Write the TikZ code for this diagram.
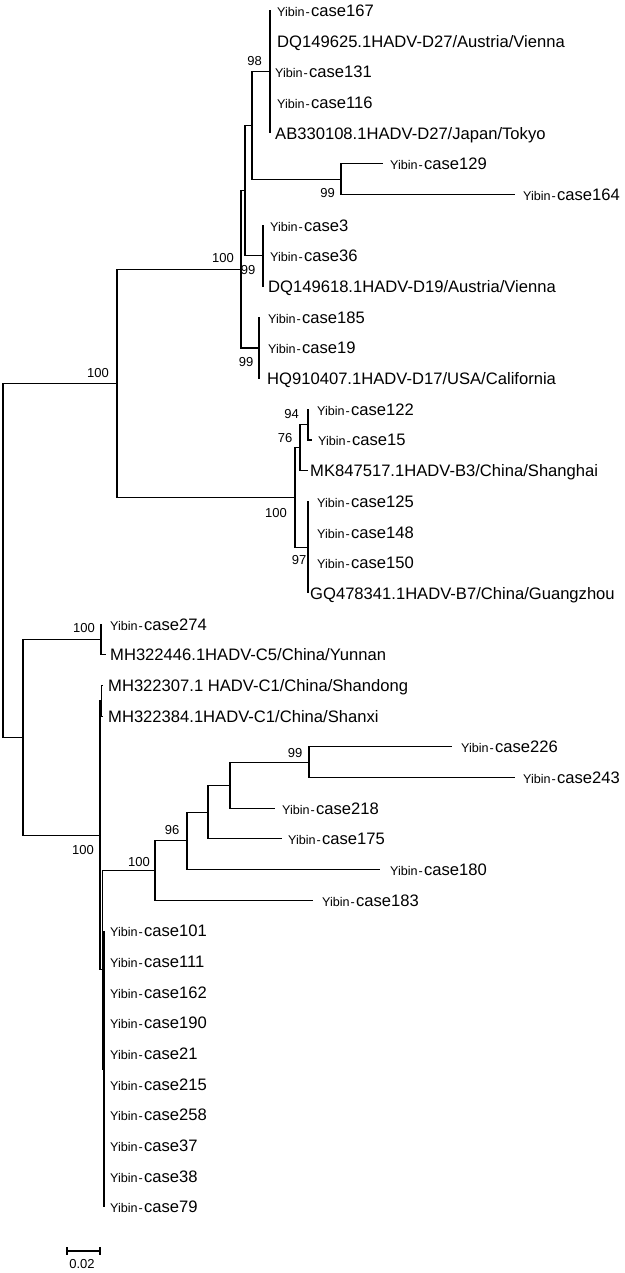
\documentclass[tikz,border=0pt]{standalone}
\usepackage{fontspec}
\setmainfont{Liberation Sans}
\newcommand\yib[1]{{\fontsize{12.6pt}{14pt}\selectfont Yibin\kern0.8pt-\kern1.4pt}case#1}
\begin{document}
\begin{tikzpicture}[x=1pt,y=-1pt,
  br/.style={line width=1.05pt},
  lab/.style={anchor=west,inner sep=0pt,text height=11.9pt,text depth=0pt,font=\fontsize{16.6pt}{18pt}\selectfont},
  bs/.style={anchor=center,inner sep=0pt,text height=9.4pt,text depth=0pt,font=\fontsize{13pt}{14pt}\selectfont}]
\useasboundingbox (0,0) rectangle (624,1273);
% internal nodes
\coordinate (root) at (3,560.5);
\coordinate (DB) at (117,383.5);
\coordinate (Dr) at (241,269.4);
\coordinate (A) at (245,190.8);
\coordinate (C) at (252,125.6);
\coordinate (D27) at (270,71.9);
\coordinate (N129) at (341,179.2);
\coordinate (N3) at (263,255.9);
\coordinate (N185) at (259,348.0);
\coordinate (Br) at (295,497.6);
\coordinate (N76) at (300,447.7);
\coordinate (N122) at (308,424.7);
\coordinate (N125) at (308,547.4);
\coordinate (Cr) at (23,737.4);
\coordinate (N274) at (101,639.5);
\coordinate (N0) at (100,835.3);
\coordinate (P) at (101.5,700.8);
\coordinate (N2) at (102.5,969.7);
\coordinate (S1) at (155,870.5);
\coordinate (S2) at (187,840.8);
\coordinate (S3) at (208,812.1);
\coordinate (S4) at (230,785.2);
\coordinate (S5) at (309,762.2);
\coordinate (N3c) at (104,1069.0);
% tips
\coordinate (t167) at (270,10.5);
\coordinate (tDQa) at (270,41.2);
\coordinate (t131) at (270,71.9);
\coordinate (t116) at (270,102.5);
\coordinate (tAB) at (270,133.2);
\coordinate (t129) at (383,163.9);
\coordinate (t164) at (515,194.6);
\coordinate (t3) at (263,225.3);
\coordinate (t36) at (263,255.9);
\coordinate (tDQb) at (263,286.6);
\coordinate (t185) at (259,317.3);
\coordinate (t19) at (259,348.0);
\coordinate (tHQ) at (259,378.7);
\coordinate (t122) at (308,409.3);
\coordinate (t15) at (312,440.0);
\coordinate (tMK) at (308,470.7);
\coordinate (t125) at (308,501.4);
\coordinate (t148) at (308,532.1);
\coordinate (t150) at (308,562.7);
\coordinate (tGQ) at (308,593.4);
\coordinate (t274) at (101,624.1);
\coordinate (tMHa) at (106,654.8);
\coordinate (tMHb) at (103,685.5);
\coordinate (tMHc) at (103,716.1);
\coordinate (t226) at (452,746.8);
\coordinate (t243) at (515,777.5);
\coordinate (t218) at (275,808.2);
\coordinate (t175) at (282,838.9);
\coordinate (t180) at (380,869.5);
\coordinate (t183) at (313,900.2);
\coordinate (t101) at (104,930.9);
\coordinate (t111) at (104,961.6);
\coordinate (t162) at (104,992.3);
\coordinate (t190) at (104,1022.9);
\coordinate (t21) at (104,1053.6);
\coordinate (t215) at (104,1084.3);
\coordinate (t258) at (104,1115.0);
\coordinate (t37) at (104,1145.7);
\coordinate (t38) at (104,1176.3);
\coordinate (t79) at (104,1207.0);
% branches
\foreach \p/\c in {root/DB,root/Cr,DB/Dr,DB/Br,Dr/A,Dr/N185,A/C,A/N3,C/D27,C/N129,
  D27/t167,D27/tDQa,D27/t131,D27/t116,D27/tAB,N129/t129,N129/t164,
  N3/t3,N3/t36,N3/tDQb,N185/t185,N185/t19,N185/tHQ,
  Br/N76,Br/N125,N76/N122,N76/tMK,N122/t122,N122/t15,
  N125/t125,N125/t148,N125/t150,N125/tGQ,
  Cr/N274,Cr/N0,N274/t274,N274/tMHa,N0/P,N0/N2,P/tMHb,P/tMHc,
  N2/S1,N2/N3c,S1/S2,S1/t183,S2/S3,S2/t180,S3/S4,S3/t175,S4/S5,S4/t218,S5/t226,S5/t243,
  N3c/t101,N3c/t111,N3c/t162,N3c/t190,N3c/t21,N3c/t215,N3c/t258,N3c/t37,N3c/t38,N3c/t79}
  {\draw[br] (\p) |- (\c);}
% leaf labels
\node[lab] (L167) at (277,10.5) {\yib{167}};
\node[lab] (LDQa) at (277,41.2) {DQ149625.1HADV-D27/Austria/Vienna};
\node[lab] (L131) at (275,71.9) {\yib{131}};
\node[lab] (L116) at (277,102.5) {\yib{116}};
\node[lab] (LAB) at (275,133.2) {AB330108.1HADV-D27/Japan/Tokyo};
\node[lab] (L129) at (390,163.9) {\yib{129}};
\node[lab] (L164) at (523,194.6) {\yib{164}};
\node[lab] (L3) at (270,225.3) {\yib{3}};
\node[lab] (L36) at (270,255.9) {\yib{36}};
\node[lab] (LDQb) at (268,286.6) {DQ149618.1HADV-D19/Austria/Vienna};
\node[lab] (L185) at (268,317.3) {\yib{185}};
\node[lab] (L19) at (268,348.0) {\yib{19}};
\node[lab] (LHQ) at (267,378.7) {HQ910407.1HADV-D17/USA/California};
\node[lab] (L122) at (317,409.3) {\yib{122}};
\node[lab] (L15) at (318,440.0) {\yib{15}};
\node[lab] (LMK) at (310,470.7) {MK847517.1HADV-B3/China/Shanghai};
\node[lab] (L125) at (317,501.4) {\yib{125}};
\node[lab] (L148) at (317,532.1) {\yib{148}};
\node[lab] (L150) at (317,562.7) {\yib{150}};
\node[lab] (LGQ) at (310,593.4) {GQ478341.1HADV-B7/China/Guangzhou};
\node[lab] (L274) at (110,624.1) {\yib{274}};
\node[lab] (LMHa) at (110,654.8) {MH322446.1HADV-C5/China/Yunnan};
\node[lab] (LMHb) at (108,685.5) {MH322307.1 HADV-C1/China/Shandong};
\node[lab] (LMHc) at (108,716.1) {MH322384.1HADV-C1/China/Shanxi};
\node[lab] (L226) at (461,746.8) {\yib{226}};
\node[lab] (L243) at (523,777.5) {\yib{243}};
\node[lab] (L218) at (282,808.2) {\yib{218}};
\node[lab] (L175) at (288,838.9) {\yib{175}};
\node[lab] (L180) at (390,869.5) {\yib{180}};
\node[lab] (L183) at (322,900.2) {\yib{183}};
\node[lab] (L101) at (110,930.9) {\yib{101}};
\node[lab] (L111) at (110,961.6) {\yib{111}};
\node[lab] (L162) at (110,992.3) {\yib{162}};
\node[lab] (L190) at (110,1022.9) {\yib{190}};
\node[lab] (L21) at (110,1053.6) {\yib{21}};
\node[lab] (L215) at (110,1084.3) {\yib{215}};
\node[lab] (L258) at (110,1115.0) {\yib{258}};
\node[lab] (L37) at (110,1145.7) {\yib{37}};
\node[lab] (L38) at (110,1176.3) {\yib{38}};
\node[lab] (L79) at (110,1207.0) {\yib{79}};
% bootstrap values
\node[bs] (b1) at (254.5,61) {98};
\node[bs] (b2) at (327.5,193) {99};
\node[bs] (b3) at (223,258) {100};
\node[bs] (b4) at (248,270) {99};
\node[bs] (b5) at (246,362) {99};
\node[bs] (b6) at (98,373) {100};
\node[bs] (b7) at (291.5,414) {94};
\node[bs] (b8) at (285,437.5) {76};
\node[bs] (b9) at (276,513) {100};
\node[bs] (b10) at (299,560) {97};
\node[bs] (b11) at (84,628) {100};
\node[bs] (b12) at (83,850) {100};
\node[bs] (b13) at (295,753) {99};
\node[bs] (b14) at (172,830) {96};
\node[bs] (b15) at (139,862) {100};
% scale bar
\coordinate (sbL) at (67,1251);
\coordinate (sbR) at (100,1251);
\draw[br] (sbL) -- (sbR);
\draw[br] ([yshift=4pt]sbL) -- ([yshift=-4pt]sbL);
\draw[br] ([yshift=4pt]sbR) -- ([yshift=-4pt]sbR);
\node[bs] (sblab) at (82,1264) {0.02};
\end{tikzpicture}
\end{document}
